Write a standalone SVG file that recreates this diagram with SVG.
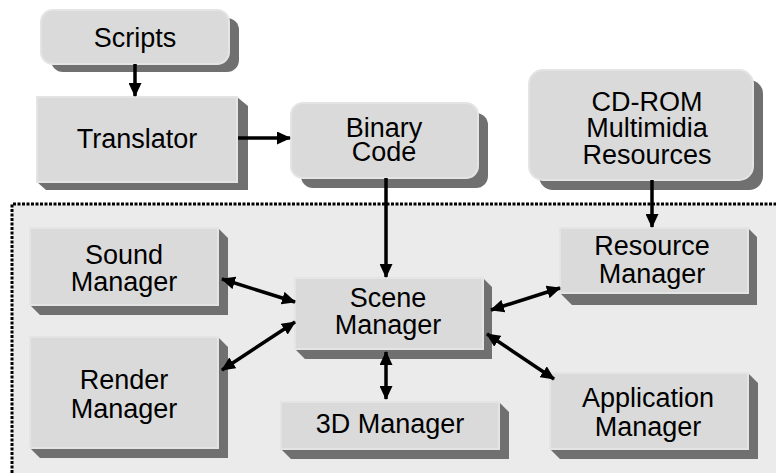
<svg xmlns="http://www.w3.org/2000/svg" width="776" height="473" viewBox="0 0 776 473">
<defs>
<style>
.box{fill:#dadada;stroke:#e4e4e4;stroke-width:2}
.sh{fill:#707070}
.t{font-family:"Liberation Sans",Arial,sans-serif;font-size:27px;fill:#000;text-anchor:middle}
.c{stroke:#000;stroke-width:3.5;fill:none}
</style>
<marker id="ah" viewBox="0 0 14 13" refX="13" refY="6.5" markerWidth="14" markerHeight="13" markerUnits="userSpaceOnUse" orient="auto-start-reverse">
<path d="M0,0 L14,6.5 L0,13 Z" fill="#000"/>
</marker>
</defs>
<rect x="0" y="0" width="776" height="473" fill="#fff"/>
<rect x="12" y="204" width="764" height="269" fill="#ebebeb"/>
<path d="M12,473 V204 H776" stroke="#000" stroke-width="3" stroke-dasharray="3 1.5" fill="none"/>

<g id="scripts">
<rect class="sh" x="51" y="18" width="188" height="54" rx="12"/>
<rect class="box" x="41" y="10" width="188" height="54" rx="12"/>
<text class="t" x="135" y="47">Scripts</text>
</g>
<g id="translator">
<polygon class="sh" points="237,97 248,106 248,190 46,190 37,182 237,182"/>
<rect class="box" x="37" y="97" width="200" height="85"/>
<text class="t" x="137" y="148">Translator</text>
</g>
<g id="binary">
<rect class="sh" x="301" y="113" width="187" height="75" rx="12"/>
<rect class="box" x="291" y="103" width="187" height="75" rx="12"/>
<text class="t" x="384" y="137">Binary</text>
<text class="t" x="384" y="161">Code</text>
</g>
<g id="cdrom">
<rect class="sh" x="539" y="80" width="224" height="110" rx="14"/>
<rect class="box" x="529" y="70" width="224" height="110" rx="14"/>
<text class="t" x="647" y="111">CD-ROM</text>
<text class="t" x="647" y="137">Multimidia</text>
<text class="t" x="647" y="164">Resources</text>
</g>
<g id="resource">
<polygon class="sh" points="748,228 757,237 757,305 572,305 560,293 748,293"/>
<rect class="box" x="560" y="228" width="188" height="65"/>
<text class="t" x="652" y="255">Resource</text>
<text class="t" x="652" y="283">Manager</text>
</g>
<g id="sound">
<polygon class="sh" points="218,228 228,238 228,315 40,315 30,305 218,305"/>
<rect class="box" x="30" y="228" width="188" height="77"/>
<text class="t" x="124" y="264">Sound</text>
<text class="t" x="124" y="291">Manager</text>
</g>
<g id="render">
<polygon class="sh" points="218,337 228,347 228,458 40,458 30,448 218,448"/>
<rect class="box" x="30" y="337" width="188" height="111"/>
<text class="t" x="124" y="389">Render</text>
<text class="t" x="124" y="418">Manager</text>
</g>
<g id="scene">
<polygon class="sh" points="483,278 492,287 492,359 305,359 295,349 483,349"/>
<rect class="box" x="295" y="278" width="188" height="71"/>
<text class="t" x="388" y="307">Scene</text>
<text class="t" x="388" y="334">Manager</text>
</g>
<g id="d3">
<polygon class="sh" points="499,402 509,412 509,459 291,459 281,449 499,449"/>
<rect class="box" x="281" y="402" width="218" height="47"/>
<text class="t" x="390" y="433">3D Manager</text>
</g>
<g id="application">
<polygon class="sh" points="748,373 758,383 758,459 560,459 550,449 748,449"/>
<rect class="box" x="550" y="373" width="198" height="76"/>
<text class="t" x="648" y="407">Application</text>
<text class="t" x="648" y="436">Manager</text>
</g>

<g id="connectors">
<line class="c" x1="135" y1="64" x2="135" y2="96" marker-end="url(#ah)"/>
<line class="c" x1="238" y1="138" x2="290" y2="138" marker-end="url(#ah)"/>
<line class="c" x1="386" y1="178" x2="386" y2="277" marker-end="url(#ah)"/>
<line class="c" x1="652" y1="180" x2="652" y2="227" marker-end="url(#ah)"/>
<line class="c" x1="222" y1="279" x2="295" y2="302" marker-start="url(#ah)" marker-end="url(#ah)"/>
<line class="c" x1="222" y1="370" x2="295" y2="322" marker-start="url(#ah)" marker-end="url(#ah)"/>
<line class="c" x1="386" y1="352" x2="386" y2="399" marker-start="url(#ah)" marker-end="url(#ah)"/>
<line class="c" x1="491" y1="310" x2="560" y2="288" marker-start="url(#ah)" marker-end="url(#ah)"/>
<line class="c" x1="487" y1="334" x2="554" y2="379" marker-start="url(#ah)" marker-end="url(#ah)"/>
</g>
</svg>
